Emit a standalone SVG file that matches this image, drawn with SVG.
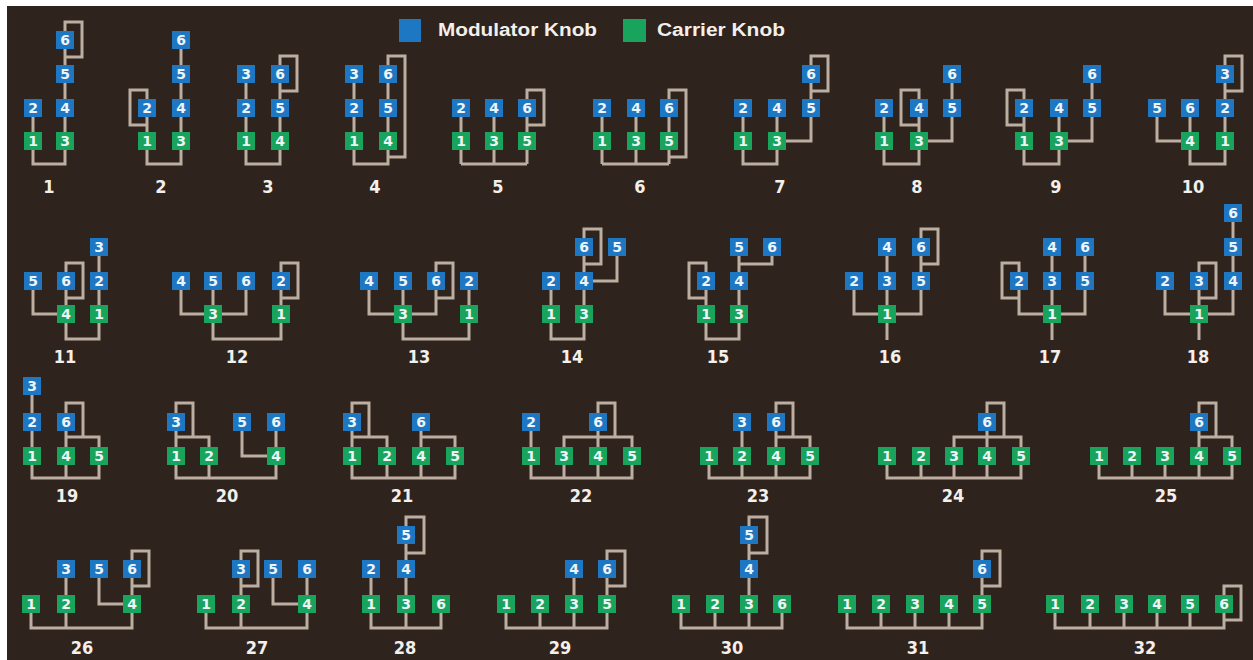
<svg xmlns="http://www.w3.org/2000/svg" width="1253" height="660" viewBox="0 0 1253 660">
<style>
.bg{fill:#2e231d}
.w{fill:none;stroke:#bcaea1;stroke-width:3;stroke-linejoin:miter;stroke-linecap:butt}
.m rect{fill:#1e77c2}
.c rect{fill:#18a45d}
.m text,.c text{font-family:"DejaVu Sans",sans-serif;font-weight:bold;font-size:14px;fill:#eef4f8;text-anchor:middle}
.lbl text{font-family:"DejaVu Sans Condensed","DejaVu Sans",sans-serif;font-weight:bold;font-size:18px;fill:#f3efea;text-anchor:middle}
.leg{font-family:"Liberation Sans",sans-serif;font-weight:bold;font-size:18px;fill:#f3efea}
</style>
<rect width="1253" height="660" fill="#ffffff"/>
<rect class="bg" x="7" y="6" width="1246" height="654"/>
<g id="legend">
<rect x="399" y="19" width="22" height="23" fill="#1e77c2"/>
<text class="leg" x="438" y="36" textLength="159" lengthAdjust="spacingAndGlyphs">Modulator Knob</text>
<rect x="623" y="19" width="23" height="23" fill="#18a45d"/>
<text class="leg" x="657" y="36" textLength="128" lengthAdjust="spacingAndGlyphs">Carrier Knob</text>
</g>
<g id="connectors" class="w">
<path d="M65,40V141 M33,108V141 M33,141V164H65V141 M65,40V22H82V57H65"/>
<path d="M181,40V141 M147,108V141 M147,141V164H181V141 M147,108V90H130V125H147"/>
<path d="M246,74V141 M280,74V141 M246,141V164H280V141 M280,74V56H297V91H280"/>
<path d="M354,74V141 M388,74V141 M354,141V164H388V141 M388,74V56H405V157H388"/>
<path d="M461,108V164 M494,108V164 M527,108V164 M461,164H527 M527,108V90H544V125H527"/>
<path d="M602,108V164 M636,108V164 M669,108V164 M602,164H669 M669,108V90H686V157H669"/>
<path d="M743,108V164H777V108 M811,74V141H777 M811,74V56H828V91H811"/>
<path d="M884,108V164H919V108 M952,74V141H919 M919,108V90H901V125H919"/>
<path d="M1024,108V164H1059V108 M1092,74V141H1059 M1024,108V90H1007V125H1024"/>
<path d="M1225,74V164H1190V108 M1157,108V141H1190 M1225,74V56H1242V91H1225"/>
<path d="M33,281V314H66 M66,281V339H99V247 M66,281V263H83V298H66"/>
<path d="M181,281V314H246V281 M213,281V339H281V281 M281,281V263H298V298H281"/>
<path d="M369,281V314H436V281 M403,281V339H469V281 M436,281V263H453V298H436"/>
<path d="M551,281V339H584V247 M617,247V281H584 M584,247V229H601V264H584"/>
<path d="M706,281V339H739V247 M772,247V264H739 M706,281V263H689V298H706"/>
<path d="M854,281V314H921V247 M887,247V340 M921,247V229H938V264H921"/>
<path d="M1019,281V314H1085V247 M1052,247V340 M1019,281V263H1002V298H1019"/>
<path d="M1165,281V314H1233V213 M1199,281V340 M1199,281V263H1216V298H1199"/>
<path d="M32,386V478H99V437H66 M66,422V478 M66,422V403H83V437"/>
<path d="M176,422V478H276V422 M176,437H209V478 M242,422V456H276 M176,422V403H193V437"/>
<path d="M352,422V478H455V437H421V478 M352,437H387V478 M421,422V437 M352,422V403H369V437"/>
<path d="M531,422V478H632V437H564V478 M598,422V478 M598,422V403H615V437"/>
<path d="M709,456V478H810V437H776V478 M742,422V478 M776,422V437 M776,422V403H793V437"/>
<path d="M887,456V478H1021V437H954V478 M921,456V478 M987,422V478 M987,422V403H1004V437"/>
<path d="M1099,456V478H1232V437H1199V478 M1132,456V478 M1165,456V478 M1199,422V437 M1199,422V403H1216V437"/>
<path d="M31,604V628H132V569 M66,569V628 M99,569V604H132 M132,569V551H149V586H132"/>
<path d="M206,604V628H307V569 M241,569V628 M273,569V604H307 M241,569V551H258V586H241"/>
<path d="M371,569V628H441V604 M406,535V628 M406,535V517H424V553H406"/>
<path d="M506,604V628H607V569 M540,604V628 M574,569V628 M607,569V551H625V586H607"/>
<path d="M681,604V628H782V604 M715,604V628 M749,535V628 M749,535V517H767V553H749"/>
<path d="M847,604V628H982V569 M881,604V628 M915,604V628 M949,604V628 M982,569V551H1000V586H982"/>
<path d="M1055,604V628H1224V604 M1090,604V628 M1124,604V628 M1157,604V628 M1190,604V628 M1224,604V586H1241V620H1224"/>
</g>
<g id="nodes">
<g id="a1n6" class="m" transform="translate(65,40)"><rect x="-9" y="-9" width="18" height="18"/><text y="5">6</text></g>
<g id="a1n5" class="m" transform="translate(65,74)"><rect x="-9" y="-9" width="18" height="18"/><text y="5">5</text></g>
<g id="a1n4" class="m" transform="translate(65,108)"><rect x="-9" y="-9" width="18" height="18"/><text y="5">4</text></g>
<g id="a1n3" class="c" transform="translate(65,141)"><rect x="-9" y="-9" width="18" height="18"/><text y="5">3</text></g>
<g id="a1n2" class="m" transform="translate(33,108)"><rect x="-9" y="-9" width="18" height="18"/><text y="5">2</text></g>
<g id="a1n1" class="c" transform="translate(33,141)"><rect x="-9" y="-9" width="18" height="18"/><text y="5">1</text></g>

<g id="a2n6" class="m" transform="translate(181,40)"><rect x="-9" y="-9" width="18" height="18"/><text y="5">6</text></g>
<g id="a2n5" class="m" transform="translate(181,74)"><rect x="-9" y="-9" width="18" height="18"/><text y="5">5</text></g>
<g id="a2n4" class="m" transform="translate(181,108)"><rect x="-9" y="-9" width="18" height="18"/><text y="5">4</text></g>
<g id="a2n3" class="c" transform="translate(181,141)"><rect x="-9" y="-9" width="18" height="18"/><text y="5">3</text></g>
<g id="a2n2" class="m" transform="translate(147,108)"><rect x="-9" y="-9" width="18" height="18"/><text y="5">2</text></g>
<g id="a2n1" class="c" transform="translate(147,141)"><rect x="-9" y="-9" width="18" height="18"/><text y="5">1</text></g>

<g id="a3n3" class="m" transform="translate(246,74)"><rect x="-9" y="-9" width="18" height="18"/><text y="5">3</text></g>
<g id="a3n2" class="m" transform="translate(246,108)"><rect x="-9" y="-9" width="18" height="18"/><text y="5">2</text></g>
<g id="a3n1" class="c" transform="translate(246,141)"><rect x="-9" y="-9" width="18" height="18"/><text y="5">1</text></g>
<g id="a3n6" class="m" transform="translate(280,74)"><rect x="-9" y="-9" width="18" height="18"/><text y="5">6</text></g>
<g id="a3n5" class="m" transform="translate(280,108)"><rect x="-9" y="-9" width="18" height="18"/><text y="5">5</text></g>
<g id="a3n4" class="c" transform="translate(280,141)"><rect x="-9" y="-9" width="18" height="18"/><text y="5">4</text></g>

<g id="a4n3" class="m" transform="translate(354,74)"><rect x="-9" y="-9" width="18" height="18"/><text y="5">3</text></g>
<g id="a4n2" class="m" transform="translate(354,108)"><rect x="-9" y="-9" width="18" height="18"/><text y="5">2</text></g>
<g id="a4n1" class="c" transform="translate(354,141)"><rect x="-9" y="-9" width="18" height="18"/><text y="5">1</text></g>
<g id="a4n6" class="m" transform="translate(388,74)"><rect x="-9" y="-9" width="18" height="18"/><text y="5">6</text></g>
<g id="a4n5" class="m" transform="translate(388,108)"><rect x="-9" y="-9" width="18" height="18"/><text y="5">5</text></g>
<g id="a4n4" class="c" transform="translate(388,141)"><rect x="-9" y="-9" width="18" height="18"/><text y="5">4</text></g>

<g id="a5n2" class="m" transform="translate(461,108)"><rect x="-9" y="-9" width="18" height="18"/><text y="5">2</text></g>
<g id="a5n1" class="c" transform="translate(461,141)"><rect x="-9" y="-9" width="18" height="18"/><text y="5">1</text></g>
<g id="a5n4" class="m" transform="translate(494,108)"><rect x="-9" y="-9" width="18" height="18"/><text y="5">4</text></g>
<g id="a5n3" class="c" transform="translate(494,141)"><rect x="-9" y="-9" width="18" height="18"/><text y="5">3</text></g>
<g id="a5n6" class="m" transform="translate(527,108)"><rect x="-9" y="-9" width="18" height="18"/><text y="5">6</text></g>
<g id="a5n5" class="c" transform="translate(527,141)"><rect x="-9" y="-9" width="18" height="18"/><text y="5">5</text></g>

<g id="a6n2" class="m" transform="translate(602,108)"><rect x="-9" y="-9" width="18" height="18"/><text y="5">2</text></g>
<g id="a6n1" class="c" transform="translate(602,141)"><rect x="-9" y="-9" width="18" height="18"/><text y="5">1</text></g>
<g id="a6n4" class="m" transform="translate(636,108)"><rect x="-9" y="-9" width="18" height="18"/><text y="5">4</text></g>
<g id="a6n3" class="c" transform="translate(636,141)"><rect x="-9" y="-9" width="18" height="18"/><text y="5">3</text></g>
<g id="a6n6" class="m" transform="translate(669,108)"><rect x="-9" y="-9" width="18" height="18"/><text y="5">6</text></g>
<g id="a6n5" class="c" transform="translate(669,141)"><rect x="-9" y="-9" width="18" height="18"/><text y="5">5</text></g>

<g id="a7n2" class="m" transform="translate(743,108)"><rect x="-9" y="-9" width="18" height="18"/><text y="5">2</text></g>
<g id="a7n1" class="c" transform="translate(743,141)"><rect x="-9" y="-9" width="18" height="18"/><text y="5">1</text></g>
<g id="a7n4" class="m" transform="translate(777,108)"><rect x="-9" y="-9" width="18" height="18"/><text y="5">4</text></g>
<g id="a7n3" class="c" transform="translate(777,141)"><rect x="-9" y="-9" width="18" height="18"/><text y="5">3</text></g>
<g id="a7n6" class="m" transform="translate(811,74)"><rect x="-9" y="-9" width="18" height="18"/><text y="5">6</text></g>
<g id="a7n5" class="m" transform="translate(811,108)"><rect x="-9" y="-9" width="18" height="18"/><text y="5">5</text></g>

<g id="a8n2" class="m" transform="translate(884,108)"><rect x="-9" y="-9" width="18" height="18"/><text y="5">2</text></g>
<g id="a8n1" class="c" transform="translate(884,141)"><rect x="-9" y="-9" width="18" height="18"/><text y="5">1</text></g>
<g id="a8n4" class="m" transform="translate(919,108)"><rect x="-9" y="-9" width="18" height="18"/><text y="5">4</text></g>
<g id="a8n3" class="c" transform="translate(919,141)"><rect x="-9" y="-9" width="18" height="18"/><text y="5">3</text></g>
<g id="a8n6" class="m" transform="translate(952,74)"><rect x="-9" y="-9" width="18" height="18"/><text y="5">6</text></g>
<g id="a8n5" class="m" transform="translate(952,108)"><rect x="-9" y="-9" width="18" height="18"/><text y="5">5</text></g>

<g id="a9n2" class="m" transform="translate(1024,108)"><rect x="-9" y="-9" width="18" height="18"/><text y="5">2</text></g>
<g id="a9n1" class="c" transform="translate(1024,141)"><rect x="-9" y="-9" width="18" height="18"/><text y="5">1</text></g>
<g id="a9n4" class="m" transform="translate(1059,108)"><rect x="-9" y="-9" width="18" height="18"/><text y="5">4</text></g>
<g id="a9n3" class="c" transform="translate(1059,141)"><rect x="-9" y="-9" width="18" height="18"/><text y="5">3</text></g>
<g id="a9n6" class="m" transform="translate(1092,74)"><rect x="-9" y="-9" width="18" height="18"/><text y="5">6</text></g>
<g id="a9n5" class="m" transform="translate(1092,108)"><rect x="-9" y="-9" width="18" height="18"/><text y="5">5</text></g>

<g id="a10n3" class="m" transform="translate(1225,74)"><rect x="-9" y="-9" width="18" height="18"/><text y="5">3</text></g>
<g id="a10n2" class="m" transform="translate(1225,108)"><rect x="-9" y="-9" width="18" height="18"/><text y="5">2</text></g>
<g id="a10n1" class="c" transform="translate(1225,141)"><rect x="-9" y="-9" width="18" height="18"/><text y="5">1</text></g>
<g id="a10n5" class="m" transform="translate(1157,108)"><rect x="-9" y="-9" width="18" height="18"/><text y="5">5</text></g>
<g id="a10n6" class="m" transform="translate(1190,108)"><rect x="-9" y="-9" width="18" height="18"/><text y="5">6</text></g>
<g id="a10n4" class="c" transform="translate(1190,141)"><rect x="-9" y="-9" width="18" height="18"/><text y="5">4</text></g>

<g id="a11n5" class="m" transform="translate(33,281)"><rect x="-9" y="-9" width="18" height="18"/><text y="5">5</text></g>
<g id="a11n6" class="m" transform="translate(66,281)"><rect x="-9" y="-9" width="18" height="18"/><text y="5">6</text></g>
<g id="a11n4" class="c" transform="translate(66,314)"><rect x="-9" y="-9" width="18" height="18"/><text y="5">4</text></g>
<g id="a11n3" class="m" transform="translate(99,247)"><rect x="-9" y="-9" width="18" height="18"/><text y="5">3</text></g>
<g id="a11n2" class="m" transform="translate(99,281)"><rect x="-9" y="-9" width="18" height="18"/><text y="5">2</text></g>
<g id="a11n1" class="c" transform="translate(99,314)"><rect x="-9" y="-9" width="18" height="18"/><text y="5">1</text></g>

<g id="a12n4" class="m" transform="translate(181,281)"><rect x="-9" y="-9" width="18" height="18"/><text y="5">4</text></g>
<g id="a12n5" class="m" transform="translate(213,281)"><rect x="-9" y="-9" width="18" height="18"/><text y="5">5</text></g>
<g id="a12n6" class="m" transform="translate(246,281)"><rect x="-9" y="-9" width="18" height="18"/><text y="5">6</text></g>
<g id="a12n2" class="m" transform="translate(281,281)"><rect x="-9" y="-9" width="18" height="18"/><text y="5">2</text></g>
<g id="a12n3" class="c" transform="translate(213,314)"><rect x="-9" y="-9" width="18" height="18"/><text y="5">3</text></g>
<g id="a12n1" class="c" transform="translate(281,314)"><rect x="-9" y="-9" width="18" height="18"/><text y="5">1</text></g>

<g id="a13n4" class="m" transform="translate(369,281)"><rect x="-9" y="-9" width="18" height="18"/><text y="5">4</text></g>
<g id="a13n5" class="m" transform="translate(403,281)"><rect x="-9" y="-9" width="18" height="18"/><text y="5">5</text></g>
<g id="a13n6" class="m" transform="translate(436,281)"><rect x="-9" y="-9" width="18" height="18"/><text y="5">6</text></g>
<g id="a13n2" class="m" transform="translate(469,281)"><rect x="-9" y="-9" width="18" height="18"/><text y="5">2</text></g>
<g id="a13n3" class="c" transform="translate(403,314)"><rect x="-9" y="-9" width="18" height="18"/><text y="5">3</text></g>
<g id="a13n1" class="c" transform="translate(469,314)"><rect x="-9" y="-9" width="18" height="18"/><text y="5">1</text></g>

<g id="a14n2" class="m" transform="translate(551,281)"><rect x="-9" y="-9" width="18" height="18"/><text y="5">2</text></g>
<g id="a14n1" class="c" transform="translate(551,314)"><rect x="-9" y="-9" width="18" height="18"/><text y="5">1</text></g>
<g id="a14n6" class="m" transform="translate(584,247)"><rect x="-9" y="-9" width="18" height="18"/><text y="5">6</text></g>
<g id="a14n4" class="m" transform="translate(584,281)"><rect x="-9" y="-9" width="18" height="18"/><text y="5">4</text></g>
<g id="a14n3" class="c" transform="translate(584,314)"><rect x="-9" y="-9" width="18" height="18"/><text y="5">3</text></g>
<g id="a14n5" class="m" transform="translate(617,247)"><rect x="-9" y="-9" width="18" height="18"/><text y="5">5</text></g>

<g id="a15n2" class="m" transform="translate(706,281)"><rect x="-9" y="-9" width="18" height="18"/><text y="5">2</text></g>
<g id="a15n1" class="c" transform="translate(706,314)"><rect x="-9" y="-9" width="18" height="18"/><text y="5">1</text></g>
<g id="a15n5" class="m" transform="translate(739,247)"><rect x="-9" y="-9" width="18" height="18"/><text y="5">5</text></g>
<g id="a15n4" class="m" transform="translate(739,281)"><rect x="-9" y="-9" width="18" height="18"/><text y="5">4</text></g>
<g id="a15n3" class="c" transform="translate(739,314)"><rect x="-9" y="-9" width="18" height="18"/><text y="5">3</text></g>
<g id="a15n6" class="m" transform="translate(772,247)"><rect x="-9" y="-9" width="18" height="18"/><text y="5">6</text></g>

<g id="a16n2" class="m" transform="translate(854,281)"><rect x="-9" y="-9" width="18" height="18"/><text y="5">2</text></g>
<g id="a16n4" class="m" transform="translate(887,247)"><rect x="-9" y="-9" width="18" height="18"/><text y="5">4</text></g>
<g id="a16n3" class="m" transform="translate(887,281)"><rect x="-9" y="-9" width="18" height="18"/><text y="5">3</text></g>
<g id="a16n1" class="c" transform="translate(887,314)"><rect x="-9" y="-9" width="18" height="18"/><text y="5">1</text></g>
<g id="a16n6" class="m" transform="translate(921,247)"><rect x="-9" y="-9" width="18" height="18"/><text y="5">6</text></g>
<g id="a16n5" class="m" transform="translate(921,281)"><rect x="-9" y="-9" width="18" height="18"/><text y="5">5</text></g>

<g id="a17n2" class="m" transform="translate(1019,281)"><rect x="-9" y="-9" width="18" height="18"/><text y="5">2</text></g>
<g id="a17n4" class="m" transform="translate(1052,247)"><rect x="-9" y="-9" width="18" height="18"/><text y="5">4</text></g>
<g id="a17n3" class="m" transform="translate(1052,281)"><rect x="-9" y="-9" width="18" height="18"/><text y="5">3</text></g>
<g id="a17n1" class="c" transform="translate(1052,314)"><rect x="-9" y="-9" width="18" height="18"/><text y="5">1</text></g>
<g id="a17n6" class="m" transform="translate(1085,247)"><rect x="-9" y="-9" width="18" height="18"/><text y="5">6</text></g>
<g id="a17n5" class="m" transform="translate(1085,281)"><rect x="-9" y="-9" width="18" height="18"/><text y="5">5</text></g>

<g id="a18n2" class="m" transform="translate(1165,281)"><rect x="-9" y="-9" width="18" height="18"/><text y="5">2</text></g>
<g id="a18n3" class="m" transform="translate(1199,281)"><rect x="-9" y="-9" width="18" height="18"/><text y="5">3</text></g>
<g id="a18n1" class="c" transform="translate(1199,314)"><rect x="-9" y="-9" width="18" height="18"/><text y="5">1</text></g>
<g id="a18n6" class="m" transform="translate(1233,213)"><rect x="-9" y="-9" width="18" height="18"/><text y="5">6</text></g>
<g id="a18n5" class="m" transform="translate(1233,247)"><rect x="-9" y="-9" width="18" height="18"/><text y="5">5</text></g>
<g id="a18n4" class="m" transform="translate(1233,281)"><rect x="-9" y="-9" width="18" height="18"/><text y="5">4</text></g>

<g id="a19n3" class="m" transform="translate(32,386)"><rect x="-9" y="-9" width="18" height="18"/><text y="5">3</text></g>
<g id="a19n2" class="m" transform="translate(32,422)"><rect x="-9" y="-9" width="18" height="18"/><text y="5">2</text></g>
<g id="a19n1" class="c" transform="translate(32,456)"><rect x="-9" y="-9" width="18" height="18"/><text y="5">1</text></g>
<g id="a19n6" class="m" transform="translate(66,422)"><rect x="-9" y="-9" width="18" height="18"/><text y="5">6</text></g>
<g id="a19n4" class="c" transform="translate(66,456)"><rect x="-9" y="-9" width="18" height="18"/><text y="5">4</text></g>
<g id="a19n5" class="c" transform="translate(99,456)"><rect x="-9" y="-9" width="18" height="18"/><text y="5">5</text></g>

<g id="a20n3" class="m" transform="translate(176,422)"><rect x="-9" y="-9" width="18" height="18"/><text y="5">3</text></g>
<g id="a20n1" class="c" transform="translate(176,456)"><rect x="-9" y="-9" width="18" height="18"/><text y="5">1</text></g>
<g id="a20n2" class="c" transform="translate(209,456)"><rect x="-9" y="-9" width="18" height="18"/><text y="5">2</text></g>
<g id="a20n5" class="m" transform="translate(242,422)"><rect x="-9" y="-9" width="18" height="18"/><text y="5">5</text></g>
<g id="a20n6" class="m" transform="translate(276,422)"><rect x="-9" y="-9" width="18" height="18"/><text y="5">6</text></g>
<g id="a20n4" class="c" transform="translate(276,456)"><rect x="-9" y="-9" width="18" height="18"/><text y="5">4</text></g>

<g id="a21n3" class="m" transform="translate(352,422)"><rect x="-9" y="-9" width="18" height="18"/><text y="5">3</text></g>
<g id="a21n1" class="c" transform="translate(352,456)"><rect x="-9" y="-9" width="18" height="18"/><text y="5">1</text></g>
<g id="a21n2" class="c" transform="translate(387,456)"><rect x="-9" y="-9" width="18" height="18"/><text y="5">2</text></g>
<g id="a21n6" class="m" transform="translate(421,422)"><rect x="-9" y="-9" width="18" height="18"/><text y="5">6</text></g>
<g id="a21n4" class="c" transform="translate(421,456)"><rect x="-9" y="-9" width="18" height="18"/><text y="5">4</text></g>
<g id="a21n5" class="c" transform="translate(455,456)"><rect x="-9" y="-9" width="18" height="18"/><text y="5">5</text></g>

<g id="a22n2" class="m" transform="translate(531,422)"><rect x="-9" y="-9" width="18" height="18"/><text y="5">2</text></g>
<g id="a22n1" class="c" transform="translate(531,456)"><rect x="-9" y="-9" width="18" height="18"/><text y="5">1</text></g>
<g id="a22n3" class="c" transform="translate(564,456)"><rect x="-9" y="-9" width="18" height="18"/><text y="5">3</text></g>
<g id="a22n6" class="m" transform="translate(598,422)"><rect x="-9" y="-9" width="18" height="18"/><text y="5">6</text></g>
<g id="a22n4" class="c" transform="translate(598,456)"><rect x="-9" y="-9" width="18" height="18"/><text y="5">4</text></g>
<g id="a22n5" class="c" transform="translate(632,456)"><rect x="-9" y="-9" width="18" height="18"/><text y="5">5</text></g>

<g id="a23n1" class="c" transform="translate(709,456)"><rect x="-9" y="-9" width="18" height="18"/><text y="5">1</text></g>
<g id="a23n3" class="m" transform="translate(742,422)"><rect x="-9" y="-9" width="18" height="18"/><text y="5">3</text></g>
<g id="a23n2" class="c" transform="translate(742,456)"><rect x="-9" y="-9" width="18" height="18"/><text y="5">2</text></g>
<g id="a23n6" class="m" transform="translate(776,422)"><rect x="-9" y="-9" width="18" height="18"/><text y="5">6</text></g>
<g id="a23n4" class="c" transform="translate(776,456)"><rect x="-9" y="-9" width="18" height="18"/><text y="5">4</text></g>
<g id="a23n5" class="c" transform="translate(810,456)"><rect x="-9" y="-9" width="18" height="18"/><text y="5">5</text></g>

<g id="a24n1" class="c" transform="translate(887,456)"><rect x="-9" y="-9" width="18" height="18"/><text y="5">1</text></g>
<g id="a24n2" class="c" transform="translate(921,456)"><rect x="-9" y="-9" width="18" height="18"/><text y="5">2</text></g>
<g id="a24n3" class="c" transform="translate(954,456)"><rect x="-9" y="-9" width="18" height="18"/><text y="5">3</text></g>
<g id="a24n4" class="c" transform="translate(987,456)"><rect x="-9" y="-9" width="18" height="18"/><text y="5">4</text></g>
<g id="a24n5" class="c" transform="translate(1021,456)"><rect x="-9" y="-9" width="18" height="18"/><text y="5">5</text></g>
<g id="a24n6" class="m" transform="translate(987,422)"><rect x="-9" y="-9" width="18" height="18"/><text y="5">6</text></g>

<g id="a25n1" class="c" transform="translate(1099,456)"><rect x="-9" y="-9" width="18" height="18"/><text y="5">1</text></g>
<g id="a25n2" class="c" transform="translate(1132,456)"><rect x="-9" y="-9" width="18" height="18"/><text y="5">2</text></g>
<g id="a25n3" class="c" transform="translate(1165,456)"><rect x="-9" y="-9" width="18" height="18"/><text y="5">3</text></g>
<g id="a25n4" class="c" transform="translate(1199,456)"><rect x="-9" y="-9" width="18" height="18"/><text y="5">4</text></g>
<g id="a25n5" class="c" transform="translate(1232,456)"><rect x="-9" y="-9" width="18" height="18"/><text y="5">5</text></g>
<g id="a25n6" class="m" transform="translate(1199,422)"><rect x="-9" y="-9" width="18" height="18"/><text y="5">6</text></g>

<g id="a26n1" class="c" transform="translate(31,604)"><rect x="-9" y="-9" width="18" height="18"/><text y="5">1</text></g>
<g id="a26n3" class="m" transform="translate(66,569)"><rect x="-9" y="-9" width="18" height="18"/><text y="5">3</text></g>
<g id="a26n2" class="c" transform="translate(66,604)"><rect x="-9" y="-9" width="18" height="18"/><text y="5">2</text></g>
<g id="a26n5" class="m" transform="translate(99,569)"><rect x="-9" y="-9" width="18" height="18"/><text y="5">5</text></g>
<g id="a26n6" class="m" transform="translate(132,569)"><rect x="-9" y="-9" width="18" height="18"/><text y="5">6</text></g>
<g id="a26n4" class="c" transform="translate(132,604)"><rect x="-9" y="-9" width="18" height="18"/><text y="5">4</text></g>

<g id="a27n1" class="c" transform="translate(206,604)"><rect x="-9" y="-9" width="18" height="18"/><text y="5">1</text></g>
<g id="a27n3" class="m" transform="translate(241,569)"><rect x="-9" y="-9" width="18" height="18"/><text y="5">3</text></g>
<g id="a27n2" class="c" transform="translate(241,604)"><rect x="-9" y="-9" width="18" height="18"/><text y="5">2</text></g>
<g id="a27n5" class="m" transform="translate(273,569)"><rect x="-9" y="-9" width="18" height="18"/><text y="5">5</text></g>
<g id="a27n6" class="m" transform="translate(307,569)"><rect x="-9" y="-9" width="18" height="18"/><text y="5">6</text></g>
<g id="a27n4" class="c" transform="translate(307,604)"><rect x="-9" y="-9" width="18" height="18"/><text y="5">4</text></g>

<g id="a28n2" class="m" transform="translate(371,569)"><rect x="-9" y="-9" width="18" height="18"/><text y="5">2</text></g>
<g id="a28n1" class="c" transform="translate(371,604)"><rect x="-9" y="-9" width="18" height="18"/><text y="5">1</text></g>
<g id="a28n5" class="m" transform="translate(406,535)"><rect x="-9" y="-9" width="18" height="18"/><text y="5">5</text></g>
<g id="a28n4" class="m" transform="translate(406,569)"><rect x="-9" y="-9" width="18" height="18"/><text y="5">4</text></g>
<g id="a28n3" class="c" transform="translate(406,604)"><rect x="-9" y="-9" width="18" height="18"/><text y="5">3</text></g>
<g id="a28n6" class="c" transform="translate(441,604)"><rect x="-9" y="-9" width="18" height="18"/><text y="5">6</text></g>

<g id="a29n1" class="c" transform="translate(506,604)"><rect x="-9" y="-9" width="18" height="18"/><text y="5">1</text></g>
<g id="a29n2" class="c" transform="translate(540,604)"><rect x="-9" y="-9" width="18" height="18"/><text y="5">2</text></g>
<g id="a29n3" class="c" transform="translate(574,604)"><rect x="-9" y="-9" width="18" height="18"/><text y="5">3</text></g>
<g id="a29n4" class="m" transform="translate(574,569)"><rect x="-9" y="-9" width="18" height="18"/><text y="5">4</text></g>
<g id="a29n6" class="m" transform="translate(607,569)"><rect x="-9" y="-9" width="18" height="18"/><text y="5">6</text></g>
<g id="a29n5" class="c" transform="translate(607,604)"><rect x="-9" y="-9" width="18" height="18"/><text y="5">5</text></g>

<g id="a30n1" class="c" transform="translate(681,604)"><rect x="-9" y="-9" width="18" height="18"/><text y="5">1</text></g>
<g id="a30n2" class="c" transform="translate(715,604)"><rect x="-9" y="-9" width="18" height="18"/><text y="5">2</text></g>
<g id="a30n5" class="m" transform="translate(749,535)"><rect x="-9" y="-9" width="18" height="18"/><text y="5">5</text></g>
<g id="a30n4" class="m" transform="translate(749,569)"><rect x="-9" y="-9" width="18" height="18"/><text y="5">4</text></g>
<g id="a30n3" class="c" transform="translate(749,604)"><rect x="-9" y="-9" width="18" height="18"/><text y="5">3</text></g>
<g id="a30n6" class="c" transform="translate(782,604)"><rect x="-9" y="-9" width="18" height="18"/><text y="5">6</text></g>

<g id="a31n1" class="c" transform="translate(847,604)"><rect x="-9" y="-9" width="18" height="18"/><text y="5">1</text></g>
<g id="a31n2" class="c" transform="translate(881,604)"><rect x="-9" y="-9" width="18" height="18"/><text y="5">2</text></g>
<g id="a31n3" class="c" transform="translate(915,604)"><rect x="-9" y="-9" width="18" height="18"/><text y="5">3</text></g>
<g id="a31n4" class="c" transform="translate(949,604)"><rect x="-9" y="-9" width="18" height="18"/><text y="5">4</text></g>
<g id="a31n5" class="c" transform="translate(982,604)"><rect x="-9" y="-9" width="18" height="18"/><text y="5">5</text></g>
<g id="a31n6" class="m" transform="translate(982,569)"><rect x="-9" y="-9" width="18" height="18"/><text y="5">6</text></g>

<g id="a32n1" class="c" transform="translate(1055,604)"><rect x="-9" y="-9" width="18" height="18"/><text y="5">1</text></g>
<g id="a32n2" class="c" transform="translate(1090,604)"><rect x="-9" y="-9" width="18" height="18"/><text y="5">2</text></g>
<g id="a32n3" class="c" transform="translate(1124,604)"><rect x="-9" y="-9" width="18" height="18"/><text y="5">3</text></g>
<g id="a32n4" class="c" transform="translate(1157,604)"><rect x="-9" y="-9" width="18" height="18"/><text y="5">4</text></g>
<g id="a32n5" class="c" transform="translate(1190,604)"><rect x="-9" y="-9" width="18" height="18"/><text y="5">5</text></g>
<g id="a32n6" class="c" transform="translate(1224,604)"><rect x="-9" y="-9" width="18" height="18"/><text y="5">6</text></g>
</g>
<g id="labels" class="lbl">
<text x="49" y="193">1</text><text x="161" y="193">2</text><text x="268" y="193">3</text><text x="375" y="193">4</text><text x="498" y="193">5</text><text x="640" y="193">6</text><text x="780" y="193">7</text><text x="917" y="193">8</text><text x="1056" y="193">9</text><text x="1193" y="193">10</text>
<text x="65" y="363">11</text><text x="237" y="363">12</text><text x="419" y="363">13</text><text x="572" y="363">14</text><text x="718" y="363">15</text><text x="890" y="363">16</text><text x="1050" y="363">17</text><text x="1198" y="363">18</text>
<text x="67" y="502">19</text><text x="227" y="502">20</text><text x="402" y="502">21</text><text x="581" y="502">22</text><text x="758" y="502">23</text><text x="953" y="502">24</text><text x="1166" y="502">25</text>
<text x="82" y="654">26</text><text x="257" y="654">27</text><text x="405" y="654">28</text><text x="560" y="654">29</text><text x="732" y="654">30</text><text x="918" y="654">31</text><text x="1145" y="654">32</text>
</g>
</svg>
